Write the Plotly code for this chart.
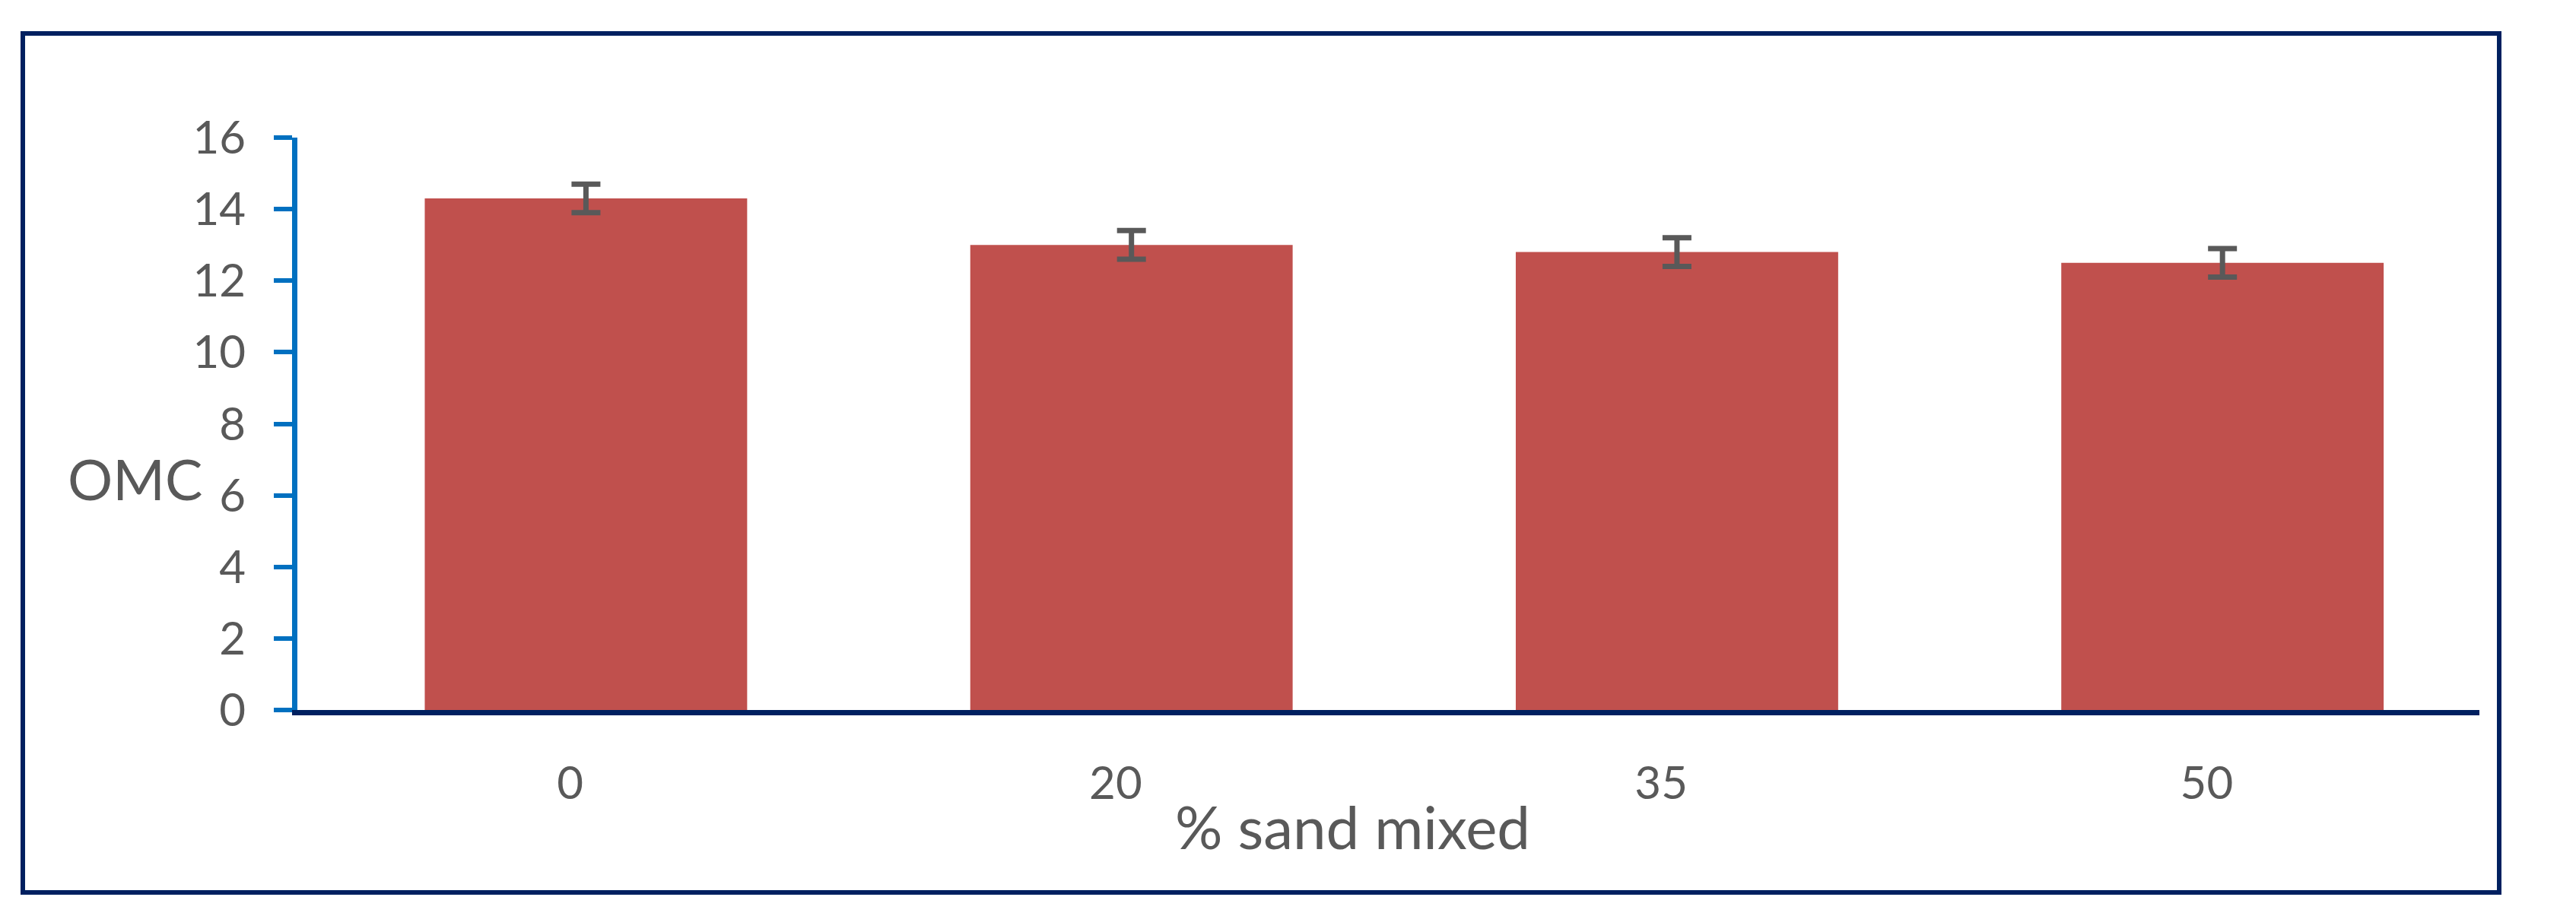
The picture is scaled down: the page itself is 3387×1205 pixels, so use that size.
import plotly.graph_objects as go

# Data
categories = ["0", "20", "35", "50"]
omc_values = [14.3, 13.0, 12.8, 12.5]
omc_errors = [0.4, 0.4, 0.4, 0.4]
y_ticks = [0, 2, 4, 6, 8, 10, 12, 14, 16]
x_title = "% sand mixed"
y_title = "OMC"

W, H = 3387, 1205
OFF = 8  # default page body margin
# target screen pixels of plot area
PL, PR, PT, PB = 391, 3260, 181, 934
L, T = PL - OFF, PT - OFF
R = W - (PR - OFF)
B = H - (PB - OFF)
pw = PR - PL
ph = PB - PT

def px_x(p):
    return (p - PL) / pw

def px_y(p):
    return (PB - p) / ph

FONT = "Lato, 'Open Sans', sans-serif"
GREY = "#595959"
NAVY = "#002060"
BLUE = "#0070C0"

BAR_W = 0.591
BAR_SHIFT = 0.029

fig = go.Figure()
fig.add_trace(go.Bar(
    x=categories,
    y=omc_values,
    width=BAR_W,
    offset=-BAR_W / 2 + BAR_SHIFT,
    marker=dict(color="#C0504D", line=dict(width=0)),
    error_y=dict(type="data", array=omc_errors, visible=True,
                 color=GREY, thickness=7, width=19),
    showlegend=False,
))

fig.update_layout(
    width=W, height=H,
    margin=dict(l=L, r=R, t=T, b=B, pad=0),
    paper_bgcolor="white",
    plot_bgcolor="white",
    font=dict(family=FONT, color=GREY),
    xaxis=dict(
        type="category",
        range=[-0.5, 3.5],
        showgrid=False, zeroline=False,
        showline=True, linecolor=NAVY, linewidth=7,
        ticks="", tickfont=dict(size=60, color=GREY, family=FONT),
        ticklabelstandoff=38,
    ),
    yaxis=dict(
        range=[0, 16],
        tickvals=y_ticks,
        showgrid=False, zeroline=False,
        showline=True, linecolor=BLUE, linewidth=7,
        ticks="outside", ticklen=24, tickwidth=6, tickcolor=BLUE,
        tickfont=dict(size=60, color=GREY, family=FONT),
        ticklabelstandoff=25,
    ),
    shapes=[dict(
        type="rect", xref="paper", yref="paper",
        x0=px_x(30), x1=px_x(3286), y0=px_y(1174), y1=px_y(44),
        line=dict(color=NAVY, width=6), fillcolor="rgba(0,0,0,0)",
        layer="below",
    )],
    annotations=[
        dict(text=x_title, xref="paper", yref="paper",
             x=px_x(1778), y=px_y(1087), xanchor="center", yanchor="middle",
             showarrow=False, font=dict(size=78, color=GREY, family=FONT)),
        dict(text=y_title, xref="paper", yref="paper",
             x=px_x(268), y=px_y(629), xanchor="right", yanchor="middle",
             showarrow=False, font=dict(size=74, color=GREY, family=FONT)),
    ],
)

fig.write_html("out.html")
